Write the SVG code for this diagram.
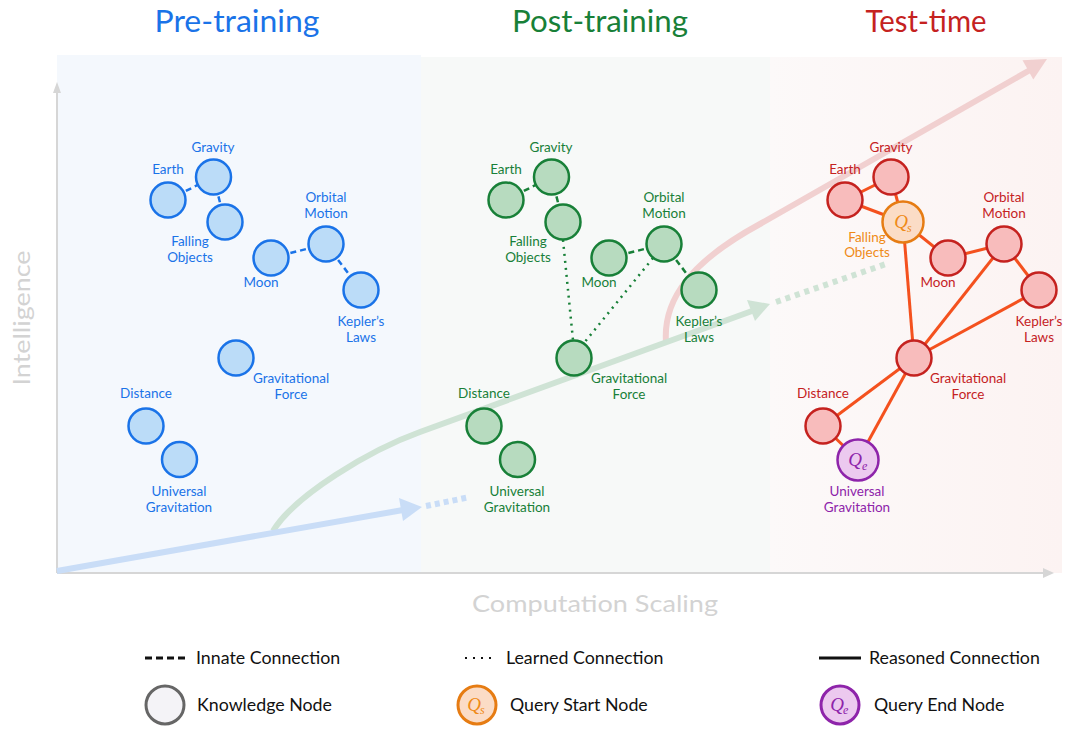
<svg xmlns="http://www.w3.org/2000/svg" width="1075" height="729" viewBox="0 0 1075 729">
<defs>
<linearGradient id="pinkGrad" x1="0" y1="0" x2="1" y2="0">
<stop offset="0" stop-color="#fcf9f9"/>
<stop offset="1" stop-color="#fcf3f2"/>
</linearGradient>
<style>
text{font-family:Lato,"Noto Sans",sans-serif;}
.lbl{font-size:13.5px;text-anchor:middle;}
.b{fill:#1a73e8;}
.g{fill:#188038;}
.r{fill:#c5221f;}
.o{fill:#ef8a17;}
.p{fill:#8e24aa;}
.nb{fill:#bbdcf8;stroke:#1a73e8;stroke-width:2.5;}
.ng{fill:#b7dbbf;stroke:#188038;stroke-width:2.5;}
.nr{fill:#f8bcbc;stroke:#c5221f;stroke-width:2.5;}
.nqs{fill:#fbdcc6;stroke:#e67c13;stroke-width:2.5;}
.nqe{fill:#ecc9ef;stroke:#8e24aa;stroke-width:2.5;}
.dash{stroke-width:2.5;stroke-dasharray:6 4;fill:none;}
.dot{stroke-width:2.5;stroke-dasharray:2 5;fill:none;}
.solid{stroke:#f4511e;stroke-width:3;fill:none;}
.title{font-size:31px;text-anchor:middle;}
.axislbl{font-size:24px;fill:#d3d3d3;text-anchor:middle;}
.leg{font-size:17.8px;fill:#111;}
.q{font-family:"Liberation Serif",serif;font-style:italic;font-size:19px;text-anchor:middle;}
.qs{font-family:"Liberation Serif",serif;font-style:italic;font-size:12px;}
</style>
</defs>

<!-- background panels -->
<g id="panels">
<rect x="57" y="55" width="364" height="518" fill="#f4f8fd"/>
<rect x="421" y="57" width="349" height="516" fill="#f7f9f8"/>
<rect x="770" y="57" width="292" height="516" fill="url(#pinkGrad)"/>
</g>

<!-- titles -->
<g id="titles">
<text x="237" y="32" class="title" fill="#1a73e8" textLength="165" lengthAdjust="spacingAndGlyphs">Pre-training</text>
<text x="600" y="32" class="title" fill="#188038" textLength="176" lengthAdjust="spacingAndGlyphs">Post-training</text>
<text x="926" y="32" class="title" fill="#c5221f" textLength="121" lengthAdjust="spacingAndGlyphs">Test-time</text>
</g>

<!-- axes -->
<g id="axes" stroke="#d6d6d6" stroke-width="2" fill="none">
<line x1="57" y1="573" x2="57" y2="90"/>
<polygon points="57,82 53,93 61,93" fill="#d6d6d6" stroke="none"/>
<line x1="57" y1="573" x2="1045" y2="573"/>
<polygon points="1054,573 1043,568 1043,578" fill="#d6d6d6" stroke="none"/>
</g>
<text x="22" y="318" class="axislbl" transform="rotate(-90 22 318)" dy="8" textLength="135" lengthAdjust="spacingAndGlyphs">Intelligence</text>
<text x="595" y="612" class="axislbl" textLength="246" lengthAdjust="spacingAndGlyphs">Computation Scaling</text>

<!-- trend arrows -->
<g id="trends" fill="none" stroke-width="6">
<path d="M666,342 C663,300 690,262 760,224 L1030,70" stroke="#f1d0d0"/>
<polygon points="1047,59 1022.5,60.3 1033.3,79.5" fill="#f1d0d0"/>
<path d="M273,531 C295,495 370,450 420,432 L752,311" stroke="#cfe3d5"/>
<polygon points="770,304 747,300 755,321" fill="#cfe3d5"/>
<line x1="776" y1="302" x2="886" y2="264" stroke="#cfe3d5" stroke-dasharray="5 5"/>
<line x1="57" y1="571" x2="403" y2="510" stroke="#c9ddf7"/>
<polygon points="422,507 399,498 403,521" fill="#c9ddf7"/>
<line x1="426" y1="506" x2="470" y2="497" stroke="#c9ddf7" stroke-dasharray="5 4"/>
</g>

<!-- connectors -->
<g id="connectors">
<!-- pre-training innate -->
<g stroke="#1a73e8" class="dash">
<line x1="168" y1="200" x2="213.5" y2="177"/>
<line x1="213.5" y1="177" x2="225" y2="222"/>
<line x1="271" y1="258" x2="326" y2="244"/>
<line x1="326" y1="244" x2="361" y2="290"/>
</g>
<!-- post-training innate -->
<g stroke="#188038" class="dash">
<line x1="506" y1="200" x2="551.5" y2="177"/>
<line x1="551.5" y1="177" x2="563" y2="222"/>
<line x1="609" y1="258" x2="664" y2="244"/>
<line x1="664" y1="244" x2="699" y2="290"/>
</g>
<!-- post-training learned -->
<g stroke="#188038" class="dot">
<line x1="563" y1="240" x2="573" y2="340"/>
<line x1="653" y1="258" x2="584" y2="343"/>
</g>
<!-- test-time reasoned -->
<g class="solid">
<line x1="845" y1="200" x2="891" y2="177"/>
<line x1="845" y1="200" x2="903" y2="222"/>
<line x1="891" y1="177" x2="903" y2="222"/>
<line x1="903" y1="222" x2="948" y2="258"/>
<line x1="948" y1="258" x2="1004" y2="244"/>
<line x1="1004" y1="244" x2="1039" y2="290"/>
<line x1="903" y1="222" x2="914" y2="358"/>
<line x1="1004" y1="244" x2="914" y2="358"/>
<line x1="1039" y1="290" x2="914" y2="358"/>
<line x1="914" y1="358" x2="823" y2="426"/>
<line x1="914" y1="358" x2="858" y2="460"/>
<line x1="823" y1="426" x2="858" y2="460"/>
</g>
</g>

<!-- pre-training nodes -->
<g id="pre-earth"><circle cx="168" cy="200" r="17.5" class="nb"/><text x="168" y="174" class="lbl b">Earth</text></g>
<g id="pre-gravity"><circle cx="213.5" cy="177" r="17.5" class="nb"/><text x="213" y="151.5" class="lbl b">Gravity</text></g>
<g id="pre-falling"><circle cx="225" cy="222" r="17.5" class="nb"/><text x="190" y="246" class="lbl b">Falling</text><text x="190" y="261.5" class="lbl b">Objects</text></g>
<g id="pre-moon"><circle cx="271" cy="258" r="17.5" class="nb"/><text x="261" y="286.5" class="lbl b">Moon</text></g>
<g id="pre-orbital"><circle cx="326" cy="244" r="17.5" class="nb"/><text x="326" y="202" class="lbl b">Orbital</text><text x="326" y="217.5" class="lbl b">Motion</text></g>
<g id="pre-kepler"><circle cx="361" cy="290" r="17.5" class="nb"/><text x="361" y="326" class="lbl b">Kepler’s</text><text x="361" y="341.5" class="lbl b">Laws</text></g>
<g id="pre-gforce"><circle cx="236" cy="358" r="17.5" class="nb"/><text x="291" y="383" class="lbl b">Gravitational</text><text x="291" y="398.5" class="lbl b">Force</text></g>
<g id="pre-distance"><circle cx="146" cy="426" r="17.5" class="nb"/><text x="146" y="397.5" class="lbl b">Distance</text></g>
<g id="pre-universal"><circle cx="179.5" cy="459.5" r="17.5" class="nb"/><text x="179" y="496" class="lbl b">Universal</text><text x="179" y="511.5" class="lbl b">Gravitation</text></g>

<!-- post-training nodes -->
<g id="post-earth"><circle cx="506" cy="200" r="17.5" class="ng"/><text x="506" y="174" class="lbl g">Earth</text></g>
<g id="post-gravity"><circle cx="551.5" cy="177" r="17.5" class="ng"/><text x="551" y="151.5" class="lbl g">Gravity</text></g>
<g id="post-falling"><circle cx="563" cy="222" r="17.5" class="ng"/><text x="528" y="246" class="lbl g">Falling</text><text x="528" y="261.5" class="lbl g">Objects</text></g>
<g id="post-moon"><circle cx="609" cy="258" r="17.5" class="ng"/><text x="599" y="286.5" class="lbl g">Moon</text></g>
<g id="post-orbital"><circle cx="664" cy="244" r="17.5" class="ng"/><text x="664" y="202" class="lbl g">Orbital</text><text x="664" y="217.5" class="lbl g">Motion</text></g>
<g id="post-kepler"><circle cx="699" cy="290" r="17.5" class="ng"/><text x="699" y="326" class="lbl g">Kepler’s</text><text x="699" y="341.5" class="lbl g">Laws</text></g>
<g id="post-gforce"><circle cx="574" cy="358" r="17.5" class="ng"/><text x="629" y="383" class="lbl g">Gravitational</text><text x="629" y="398.5" class="lbl g">Force</text></g>
<g id="post-distance"><circle cx="484" cy="426" r="17.5" class="ng"/><text x="484" y="397.5" class="lbl g">Distance</text></g>
<g id="post-universal"><circle cx="517.5" cy="459.5" r="17.5" class="ng"/><text x="517" y="496" class="lbl g">Universal</text><text x="517" y="511.5" class="lbl g">Gravitation</text></g>

<!-- test-time nodes -->
<g id="test-earth"><circle cx="845" cy="200" r="17.5" class="nr"/><text x="845" y="174" class="lbl r">Earth</text></g>
<g id="test-gravity"><circle cx="891" cy="177" r="17.5" class="nr"/><text x="891" y="151.5" class="lbl r">Gravity</text></g>
<g id="test-falling"><circle cx="903" cy="222" r="20.5" class="nqs"/><text x="901" y="228" class="q o">Q</text><text x="907" y="232" class="qs o">s</text><text x="867" y="241.5" class="lbl o">Falling</text><text x="867" y="257" class="lbl o">Objects</text></g>
<g id="test-moon"><circle cx="948" cy="258" r="17.5" class="nr"/><text x="938" y="286.5" class="lbl r">Moon</text></g>
<g id="test-orbital"><circle cx="1004" cy="244" r="17.5" class="nr"/><text x="1004" y="202" class="lbl r">Orbital</text><text x="1004" y="217.5" class="lbl r">Motion</text></g>
<g id="test-kepler"><circle cx="1039" cy="290" r="17.5" class="nr"/><text x="1039" y="326" class="lbl r">Kepler’s</text><text x="1039" y="341.5" class="lbl r">Laws</text></g>
<g id="test-gforce"><circle cx="914" cy="358" r="17.5" class="nr"/><text x="968" y="383" class="lbl r">Gravitational</text><text x="968" y="398.5" class="lbl r">Force</text></g>
<g id="test-distance"><circle cx="823" cy="426" r="17.5" class="nr"/><text x="823" y="397.5" class="lbl r">Distance</text></g>
<g id="test-universal"><circle cx="858" cy="460" r="20.5" class="nqe"/><text x="855" y="466" class="q p">Q</text><text x="862" y="470" class="qs p">e</text><text x="857" y="496" class="lbl p">Universal</text><text x="857" y="511.5" class="lbl p">Gravitation</text></g>

<!-- legend -->
<g id="legend">
<line x1="145" y1="658" x2="188" y2="658" stroke="#111" stroke-width="3" stroke-dasharray="7 4"/>
<text x="196" y="664" class="leg">Innate Connection</text>
<line x1="465" y1="658" x2="497" y2="658" stroke="#111" stroke-width="2" stroke-dasharray="2 6"/>
<text x="506" y="664" class="leg">Learned Connection</text>
<line x1="819" y1="658" x2="861" y2="658" stroke="#111" stroke-width="3"/>
<text x="869" y="664" class="leg">Reasoned Connection</text>
<circle cx="165" cy="705" r="19" fill="#f4f3f7" stroke="#666" stroke-width="3"/>
<text x="197" y="711" class="leg">Knowledge Node</text>
<circle cx="477" cy="705" r="19" fill="#fbdcc6" stroke="#e67c13" stroke-width="3"/>
<text x="474" y="711" class="q o" font-size="17">Q</text><text x="480" y="714" class="qs o" font-size="11">s</text>
<text x="510" y="711" class="leg">Query Start Node</text>
<circle cx="840" cy="705" r="19" fill="#ecc9ef" stroke="#8e24aa" stroke-width="3"/>
<text x="837" y="711" class="q p" font-size="17">Q</text><text x="843" y="714" class="qs p" font-size="11">e</text>
<text x="874" y="711" class="leg">Query End Node</text>
</g>
</svg>
